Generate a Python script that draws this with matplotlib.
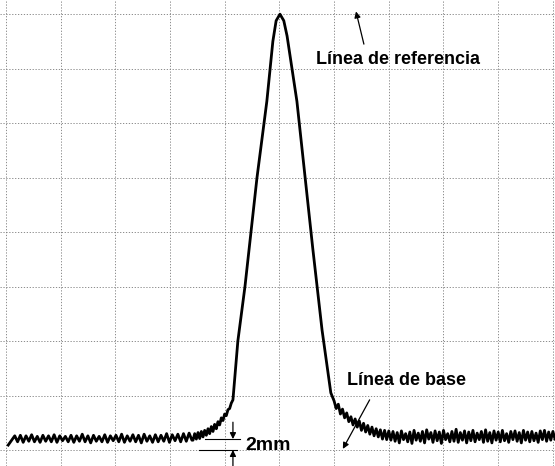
import numpy as np
import matplotlib
matplotlib.use("Agg")
import matplotlib.pyplot as plt

plt.rcParams["font.family"] = ["Liberation Sans", "DejaVu Sans"]

# chart units: x in grid divisions, y in mm above the bottom grid line
x_grid = list(range(0, 11))
y_grid = list(range(0, 90, 10))

# left baseline (noisy zigzag)
left_start = (0.04, 0.9)
left_noise = [2.6, 1.5, 2.7, 1.4, 2.6, 1.6, 2.8, 1.5, 2.5, 1.4, 2.7, 1.6, 2.6, 1.5, 2.8, 1.4,
              2.6, 1.7, 2.5, 1.5, 2.7, 1.4, 2.6, 1.6, 2.9, 1.5, 2.6, 1.3, 2.7, 1.6, 2.5, 1.5,
              2.8, 1.4, 2.6, 1.7, 2.7, 1.5, 2.9, 1.4, 2.6, 1.6, 2.8, 1.5, 2.7, 1.3, 2.9, 1.6,
              2.6, 1.4, 2.8, 1.5, 2.7, 1.6, 3.0, 1.4, 2.8, 1.7, 2.9, 1.5, 3.0, 1.6, 3.1, 1.8]
# rising tail before the peak
tail_left = [1.8, 3.0, 2.0, 3.2, 2.1, 3.4, 2.4, 3.6, 2.7, 3.9, 3.0, 4.3,
             3.4, 4.7, 3.9, 5.2, 4.6, 5.9, 5.4, 6.6, 6.3, 7.4, 7.6, 8.6]
# peak flanks
peak_x = [4.15, 4.24, 4.37, 4.48, 4.59, 4.77, 4.88, 4.94, 5.01, 5.08, 5.14,
          5.32, 5.47, 5.61, 5.78, 5.94]
peak_y = [9.2, 20, 30, 40, 50, 64, 75, 78.8, 80.0, 78.8, 76,
          64, 50, 37, 22, 10.5]
# falling tail + right baseline
right_noise = [9.0, 7.6, 8.4, 6.6, 7.5, 5.9, 6.8, 5.2, 6.1, 4.6, 5.7, 4.2, 5.3, 3.6,
               4.9, 3.3, 4.5, 2.9, 4.2, 2.6, 3.9, 2.4, 3.7, 2.0, 3.6, 1.9, 3.5, 1.8,
               3.4, 1.6, 3.2, 1.3, 3.5, 1.9, 3.0, 1.5, 3.3, 1.2, 3.6, 1.8, 3.1, 1.6, 3.4, 1.3,
               3.7, 2.0, 3.2, 1.4, 3.5, 1.7, 3.3, 1.2, 3.6, 1.9, 3.0, 1.5, 3.4, 1.6, 3.8, 1.4,
               3.2, 1.8, 3.5, 1.3, 3.3, 1.7, 3.6, 1.5, 3.1, 1.9, 3.4, 1.4, 3.7, 1.6, 3.2, 1.3,
               3.5, 1.8, 3.3, 1.5, 3.6, 1.7, 3.0, 1.4, 3.4, 1.9, 3.5, 1.6, 3.2, 1.3, 3.6, 1.8,
               3.3, 1.5, 3.4, 1.7, 3.1, 1.4, 3.5, 1.9, 3.6, 1.6, 3.3, 1.8, 3.4, 2.0]

xs = np.concatenate([[left_start[0]],
                     np.linspace(0.16, 3.40, len(left_noise)),
                     np.linspace(3.42, 4.12, len(tail_left)),
                     peak_x,
                     np.linspace(6.00, 10.04, len(right_noise))])
ys = np.concatenate([[left_start[1]], left_noise, tail_left, peak_y, right_noise])

fig = plt.figure(figsize=(5.55, 4.66), dpi=100)
ax = fig.add_axes([0, 0, 1, 1])
ax.set_xlim(-0.11, 10.04)
ax.set_ylim(-2.94, 82.6)
ax.axis("off")

for gx in x_grid:
    ax.axvline(gx, color="#7a7a7a", lw=0.6, ls=(0, (1.5, 2)), zorder=1)
for gy in y_grid:
    ax.axhline(gy, color="#7a7a7a", lw=0.6, ls=(0, (1.5, 2)), zorder=1)

ax.plot(xs, ys, color="black", lw=2.0, solid_joinstyle="round", zorder=3)

txt = dict(fontsize=13, fontweight="bold", va="center", ha="left")
ax.text(5.67, 71.6, "Línea de referencia", **txt)
ax.text(6.23, 12.8, "Línea de base", **txt)
ax.text(4.37, 0.9, "2mm", fontsize=14, fontweight="bold", va="center", ha="left")

arr = dict(arrowstyle="-|>", color="black", lw=0.9, mutation_scale=9, shrinkA=0, shrinkB=0)
ax.annotate("", xy=(6.40, 80.5), xytext=(6.545, 74.5), arrowprops=arr)
ax.annotate("", xy=(6.16, 0.2), xytext=(6.65, 9.2), arrowprops=arr)

# 2 mm dimension
ax.plot([3.64, 4.28], [2, 2], color="black", lw=0.8)
ax.plot([3.53, 4.22], [0, 0], color="black", lw=0.8)
ax.annotate("", xy=(4.15, 2), xytext=(4.15, 5.1), arrowprops=arr)
ax.annotate("", xy=(4.15, 0), xytext=(4.15, -2.94), arrowprops=arr)

fig.savefig("out.png", dpi=100)
